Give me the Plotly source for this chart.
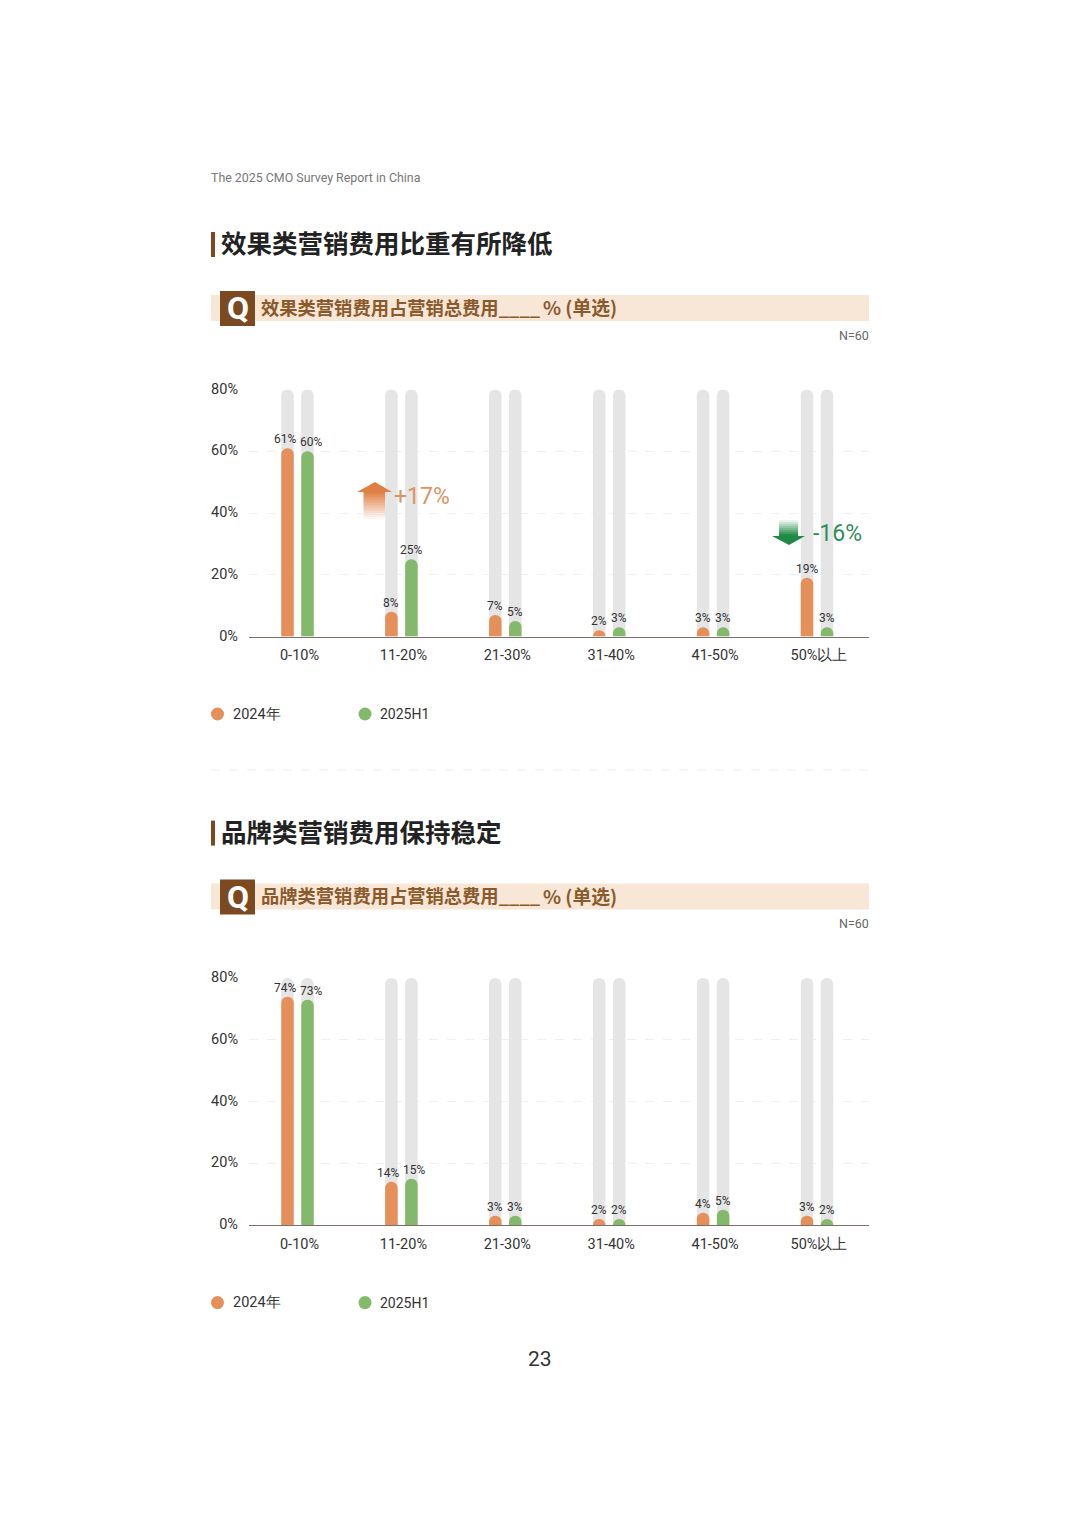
import plotly.graph_objects as go

W = 1080
H = 1527

# 数据
categories = ['0-10%', '11-20%', '21-30%', '31-40%', '41-50%', '50%以上']
tick_vals = [0, 20, 40, 60, 80]
tick_text = ['0%', '20%', '40%', '60%', '80%']
track = [80, 80, 80, 80, 80, 80]

perf_2024 = [61, 8, 7, 2, 3, 19]
perf_2025 = [60, 25, 5, 3, 3, 3]
brand_2024 = [74, 14, 3, 2, 4, 3]
brand_2025 = [73, 15, 3, 2, 5, 2]

ORANGE = '#e58f5b'
GREEN = '#84b96b'
BROWN = '#7c4a20'
CJK = 'Noto Sans CJK SC'
NUM = 'Roboto'


def px(x):
    return x / W


def py(y):
    return 1 - y / H


fig = go.Figure()

shapes = []
annotations = []


def rect(x0, y0, x1, y1, color, opacity=1):
    shapes.append(dict(type='rect', xref='paper', yref='paper', x0=px(x0), x1=px(x1),
                       y0=py(y0), y1=py(y1), fillcolor=color, opacity=opacity,
                       line=dict(width=0), layer='below'))


def label(text, x, y, size, color, family=NUM, xanchor='left', bold=False):
    if bold:
        text = '<b>' + text + '</b>'
    annotations.append(dict(text=text, xref='paper', yref='paper', x=px(x), y=py(y),
                            xanchor=xanchor, yanchor='middle', showarrow=False, borderpad=0,
                            borderwidth=0, font=dict(family=family, size=size, color=color)))


def add_chart(v1, v2, xaxis, yaxis, yaxis_top):
    # 灰色底柱放在底层坐标，彩色柱放在叠加坐标，这样圆角才都在
    for i in range(2):
        fig.add_trace(go.Bar(x=categories, y=track, xaxis=xaxis, yaxis=yaxis,
                             marker=dict(color='#e5e5e5', cornerradius=6, line=dict(width=0)),
                             hoverinfo='skip', showlegend=False))
    for vals, color, name in [(v1, ORANGE, '2024年'), (v2, GREEN, '2025H1')]:
        fig.add_trace(go.Bar(x=categories, y=vals, xaxis=xaxis, yaxis=yaxis_top, name=name,
                             marker=dict(color=color, cornerradius=6, line=dict(width=0)),
                             showlegend=False))
    # 数值标签，两个都是两位数时往外错开一点
    for cat, a, b in zip(categories, v1, v2):
        spread = 3 if a >= 10 and b >= 10 else 0
        for val, shift in [(a, -10 - spread), (b, 10 + spread)]:
            annotations.append(dict(text=str(val) + '%', x=cat, y=val, xref=xaxis, yref=yaxis_top,
                                    xshift=shift, yshift=9, showarrow=False, borderpad=0,
                                    yanchor='middle', xanchor='center',
                                    font=dict(family=NUM, size=12, color='#333333')))


def add_section(top, title, question):
    # top 是相对第一部分的版面偏移
    rect(211, top + 232, 215, top + 257, BROWN)
    label(title, 221, top + 241.5, 25.5, '#222222', CJK, bold=True)
    rect(211, top + 295, 869, top + 321, '#f8e6d6')
    rect(220, top + 291, 255, top + 326, BROWN)
    label('Q', 237.5, top + 308, 32, 'white', NUM, 'center', True)
    label(question + '____', 261, top + 306.5, 18.3, '#8a5a2c', CJK, bold=True)
    label('% (单选)', 543, top + 306.5, 18.8, '#8a5a2c', CJK, bold=True)
    label('N=60', 869, top + 335, 12.5, '#666666', NUM, 'right')
    shapes.append(dict(type='circle', xref='paper', yref='paper', x0=px(211), x1=px(224),
                       y0=py(top + 720.5), y1=py(top + 707.5), fillcolor=ORANGE, line=dict(width=0)))
    shapes.append(dict(type='circle', xref='paper', yref='paper', x0=px(358.5), x1=px(371.5),
                       y0=py(top + 720.5), y1=py(top + 707.5), fillcolor=GREEN, line=dict(width=0)))
    label('2024年', 233, top + 714, 14.5, '#333333')
    label('2025H1', 380, top + 714, 14, '#333333')


add_chart(perf_2024, perf_2025, 'x', 'y', 'y3')
add_chart(brand_2024, brand_2025, 'x2', 'y2', 'y4')

add_section(0, '效果类营销费用比重有所降低', '效果类营销费用占营销总费用')
add_section(588.6, '品牌类营销费用保持稳定', '品牌类营销费用占营销总费用')

label('The 2025 CMO Survey Report in China', 211, 177, 12.4, '#777777')
label('23', 540, 1359, 21, '#333333', NUM, 'center')

shapes.append(dict(type='line', xref='paper', yref='paper', x0=px(211), x1=px(869),
                   y0=py(770), y1=py(770), line=dict(color='#ececec', width=1, dash='dash')))

# 涨跌箭头，用细条叠出渐变
for i in range(14):
    rect(363.5, 491 + i * 2, 385.5, 493 + i * 2, '#e07f45', 1 - i / 14)
shapes.append(dict(type='path', path='M %f %f L %f %f L %f %f Z' % (
    px(357), py(492), px(375), py(482), px(392), py(492)),
    xref='paper', yref='paper', fillcolor='#e07f45', line=dict(width=0)))
label('+17%', 394, 496, 23, '#e0935f')

for i in range(8):
    rect(779, 520 + i * 2, 798, 522 + i * 2, '#1f8a45', 0.1 + i / 8)
shapes.append(dict(type='path', path='M %f %f L %f %f L %f %f Z' % (
    px(772), py(536), px(805), py(536), px(789), py(545)),
    xref='paper', yref='paper', fillcolor='#1f8a45', line=dict(width=0)))
label('-16%', 813, 534, 23, '#2f8f5b')

x_range = [-0.4668, 5.5005]
x_style = dict(type='category', categoryorder='array', categoryarray=categories, range=x_range,
               domain=[px(249), px(869)], showline=True, linecolor='#7d7068', linewidth=1,
               ticks='', showgrid=False, automargin=False, ticklabelstandoff=5, ticklabelshift=2,
               tickfont=dict(family=NUM, size=14.5, color='#333333'))
y_style = dict(range=[0, 80], tickvals=tick_vals, ticktext=tick_text, showline=False, zeroline=False,
               gridcolor='#f0f0f0', griddash='dash', gridwidth=1, ticks='', ticklabelstandoff=10,
               ticklabelshift=-1, automargin=False, tickfont=dict(family=NUM, size=14.5, color='#333333'))
y_top = dict(range=[0, 80], visible=False, showgrid=False, zeroline=False, automargin=False)

dom1 = [py(636.5), py(389.5)]
dom2 = [py(1225.1), py(978.1)]

fig.update_layout(
    width=W,
    height=H,
    margin=dict(l=0, r=0, t=0, b=0, autoexpand=False),
    paper_bgcolor='white',
    plot_bgcolor='rgba(0,0,0,0)',
    barmode='group',
    bargap=0.615,
    bargroupgap=0.375,
    showlegend=False,
    xaxis=dict(x_style, anchor='y'),
    yaxis=dict(y_style, anchor='x', domain=dom1),
    yaxis3=dict(y_top, anchor='x', domain=dom1, overlaying='y'),
    xaxis2=dict(x_style, anchor='y2'),
    yaxis2=dict(y_style, anchor='x2', domain=dom2),
    yaxis4=dict(y_top, anchor='x2', domain=dom2, overlaying='y2'),
    shapes=shapes,
    annotations=annotations,
)

fig.write_html("out.html", config=dict(displayModeBar=False),
               post_script="document.body.style.margin='0';")
